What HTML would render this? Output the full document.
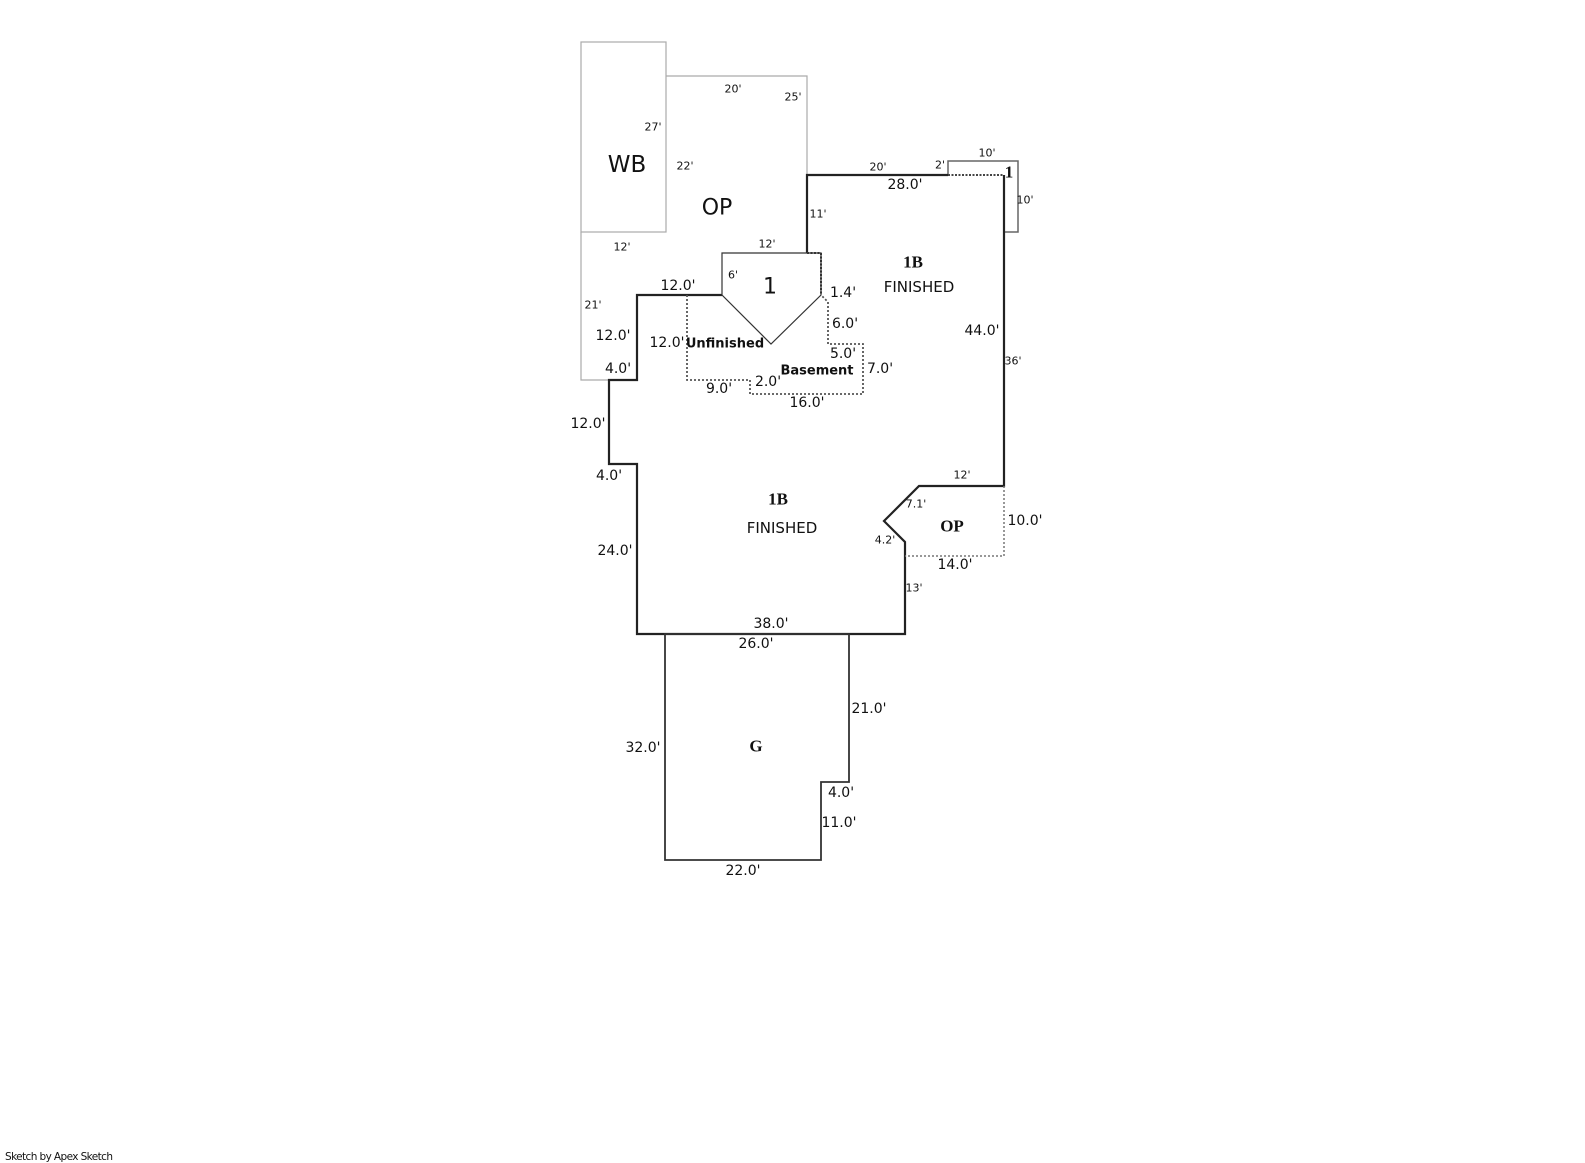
<!DOCTYPE html>
<html><head><meta charset="utf-8"><style>
html,body{margin:0;padding:0;background:#fff;}
svg{display:block;}
text{font-family:"DejaVu Sans","Liberation Sans",sans-serif;fill:#111;}
.s{font-size:11px;}
.m{font-size:14px;}
.b{font-family:"Liberation Serif",serif;font-weight:bold;font-size:17px;}
</style></head><body>
<svg width="1585" height="1163" viewBox="0 0 1585 1163" xmlns="http://www.w3.org/2000/svg">
<g fill="none" stroke-linejoin="miter">
<rect x="581" y="42" width="85" height="190" stroke="#aaa" stroke-width="1.2"/>
<polyline points="666,76 807,76 807,175" stroke="#aaa" stroke-width="1.2"/>
<polyline points="581,232 581,380 609,380" stroke="#aaa" stroke-width="1.2"/>
<polyline points="948,175 948,161 1018,161 1018,232 1004,232" stroke="#666" stroke-width="1.5"/>
<line x1="948" y1="175" x2="1004" y2="175" stroke="#444" stroke-width="2" stroke-dasharray="2,1.5"/>
<polyline points="807,253 807,175 948,175" stroke="#222" stroke-width="2.2"/>
<polyline points="1004,175 1004,486 919,486 884,521 905,542 905,634 637,634 637,464 609,464 609,380 637,380 637,295 722,295" stroke="#222" stroke-width="2.2"/>
<polygon points="722,253 821,253 821,295 771,344 722,295" stroke="#333" stroke-width="1.2"/>
<polyline points="807,253 821,253 821,295" stroke="#333" stroke-width="2" stroke-dasharray="2,1.5"/>
<polyline points="687,295 687,380 750,380 750,394 863,394 863,344 828,344 828,302 821,295" stroke="#555" stroke-width="1.8" stroke-dasharray="2,2"/>
<polyline points="1004,486 1004,556 905,556" stroke="#777" stroke-width="1.5" stroke-dasharray="2,2"/>
<polygon points="665,634 849,634 849,782 821,782 821,860 665,860" stroke="#333" stroke-width="1.8"/>
</g>
<g text-anchor="middle" dominant-baseline="central">
<text class="s" x="733" y="89">20'</text>
<text class="s" x="793" y="97">25'</text>
<text class="s" x="653" y="127">27'</text>
<text x="627" y="165" style="font-size:23px">WB</text>
<text class="s" x="685" y="166">22'</text>
<text x="717" y="208" style="font-size:22px">OP</text>
<text class="s" x="878" y="167">20'</text>
<text class="s" x="940" y="165">2'</text>
<text class="s" x="987" y="153">10'</text>
<text class="b" x="1009" y="172">1</text>
<text class="s" x="1025" y="200">10'</text>
<text class="m" x="905" y="185">28.0'</text>
<text class="s" x="818" y="214">11'</text>
<text class="s" x="622" y="247">12'</text>
<text class="s" x="767" y="244">12'</text>
<text class="s" x="733" y="275">6'</text>
<text x="770" y="287" style="font-size:22px">1</text>
<text class="m" x="678" y="286">12.0'</text>
<text class="m" x="843" y="293">1.4'</text>
<text class="b" x="913" y="262">1B</text>
<text x="919" y="287" style="font-size:15px">FINISHED</text>
<text class="s" x="593" y="305">21'</text>
<text class="m" x="845" y="324">6.0'</text>
<text class="m" x="982" y="331">44.0'</text>
<text class="m" x="613" y="336">12.0'</text>
<text class="m" x="667" y="343">12.0'</text>
<text x="725" y="344" style="font-size:13px;font-weight:bold">Unfinished</text>
<text class="m" x="843" y="354">5.0'</text>
<text class="s" x="1013" y="361">36'</text>
<text class="m" x="880" y="369">7.0'</text>
<text class="m" x="618" y="369">4.0'</text>
<text x="817" y="371" style="font-size:13px;font-weight:bold">Basement</text>
<text class="m" x="768" y="382">2.0'</text>
<text class="m" x="719" y="389">9.0'</text>
<text class="m" x="807" y="403">16.0'</text>
<text class="m" x="588" y="424">12.0'</text>
<text class="m" x="609" y="476">4.0'</text>
<text class="s" x="962" y="475">12'</text>
<text class="b" x="778" y="499">1B</text>
<text class="s" x="916" y="504">7.1'</text>
<text class="b" x="952" y="526">OP</text>
<text class="m" x="1025" y="521">10.0'</text>
<text x="782" y="528" style="font-size:15px">FINISHED</text>
<text class="s" x="885" y="540">4.2'</text>
<text class="m" x="615" y="551">24.0'</text>
<text class="m" x="955" y="565">14.0'</text>
<text class="s" x="914" y="588">13'</text>
<text class="m" x="771" y="624">38.0'</text>
<text class="m" x="756" y="644">26.0'</text>
<text class="m" x="869" y="709">21.0'</text>
<text class="m" x="643" y="748">32.0'</text>
<text class="b" x="756" y="746">G</text>
<text class="m" x="841" y="793">4.0'</text>
<text class="m" x="839" y="823">11.0'</text>
<text class="m" x="743" y="871">22.0'</text>
</g>
<text x="5" y="1160" style="font-size:10.5px;letter-spacing:-0.6px">Sketch by Apex Sketch</text>
</svg>
</body></html>
